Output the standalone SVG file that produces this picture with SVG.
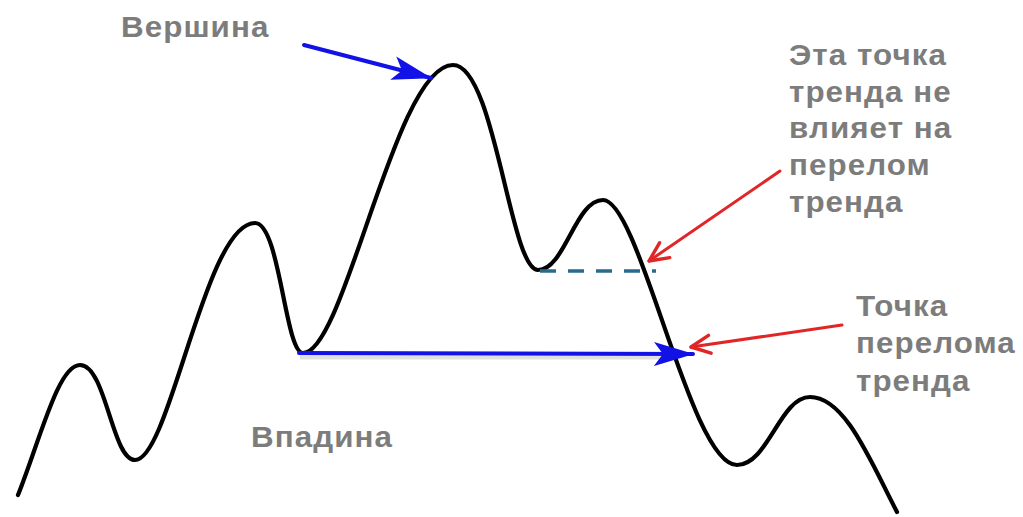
<svg xmlns="http://www.w3.org/2000/svg" width="1023" height="517" viewBox="0 0 1023 517">
<defs>
<style>
.lbl{font-family:"Liberation Sans",Arial,sans-serif;font-size:29px;font-weight:bold;fill:#7c7c7c;letter-spacing:1px}
.curve{fill:none;stroke:#000;stroke-width:4.2;stroke-linecap:round;stroke-linejoin:round}
.blue{fill:none;stroke:#1212e6;stroke-width:4;stroke-linecap:round}
.red{fill:none;stroke:#e02626;stroke-width:3;stroke-linecap:round}
.dash{fill:none;stroke:#2a6a8c;stroke-width:3.5;stroke-dasharray:16 12}
</style>
<marker id="bh" viewBox="0 0 40 26" refX="39" refY="13" markerWidth="40" markerHeight="26" markerUnits="userSpaceOnUse" orient="auto">
<path d="M0,1 L40,13 L0,25 L9,13 Z" fill="#1212e6"/>
</marker>
<marker id="rh" viewBox="0 0 24 22" refX="22" refY="11" markerWidth="24" markerHeight="22" markerUnits="userSpaceOnUse" orient="auto">
<path d="M3,2 L22,11 L3,20" fill="none" stroke="#e02626" stroke-width="3.4" stroke-linecap="round" stroke-linejoin="round"/>
</marker>
</defs>
<rect width="1023" height="517" fill="#fff"/>
<g id="curve">
<path class="curve" d="M18,495 C40,440 58,365 80,365 C106,365 112,460 135,460 C170,460 205,223 255,223 C280,223 285,353 303,353 C345,353 395,65 453,65 C495,65 510,270 538,270 C565,270 575,200 603,200 C640,200 690,465 737,465 C768,465 780,397 810,397 C845,397 870,460 897,512"/>
</g>
<g id="connectors">
<line x1="300" y1="357" x2="676" y2="357" stroke="#000" stroke-opacity="0.12" stroke-width="5"/>
<line class="dash" x1="540" y1="271" x2="656" y2="271"/>
<line class="blue" x1="304" y1="45" x2="431" y2="78" marker-end="url(#bh)"/>
<line class="blue" x1="299" y1="353" x2="693" y2="354" marker-end="url(#bh)"/>
<line class="red" x1="780" y1="171" x2="649" y2="261" marker-end="url(#rh)"/>
<line class="red" x1="842" y1="325" x2="691" y2="347" marker-end="url(#rh)"/>
</g>
<g id="label-vershina"><text class="lbl" transform="translate(121,37) scale(1.08,1)">Вершина</text></g>
<g id="label-vpadina"><text class="lbl" transform="translate(251,447) scale(1.08,1)">Впадина</text></g>
<g id="label-note">
<text class="lbl" transform="translate(789,65) scale(1.08,1)">Эта точка</text>
<text class="lbl" transform="translate(789,102) scale(1.08,1)">тренда не</text>
<text class="lbl" transform="translate(789,138) scale(1.08,1)">влияет на</text>
<text class="lbl" transform="translate(789,175) scale(1.08,1)">перелом</text>
<text class="lbl" transform="translate(789,212) scale(1.08,1)">тренда</text>
</g>
<g id="label-break">
<text class="lbl" transform="translate(856,316) scale(1.08,1)">Точка</text>
<text class="lbl" transform="translate(856,353) scale(1.08,1)">перелома</text>
<text class="lbl" transform="translate(856,391) scale(1.08,1)">тренда</text>
</g>
</svg>
